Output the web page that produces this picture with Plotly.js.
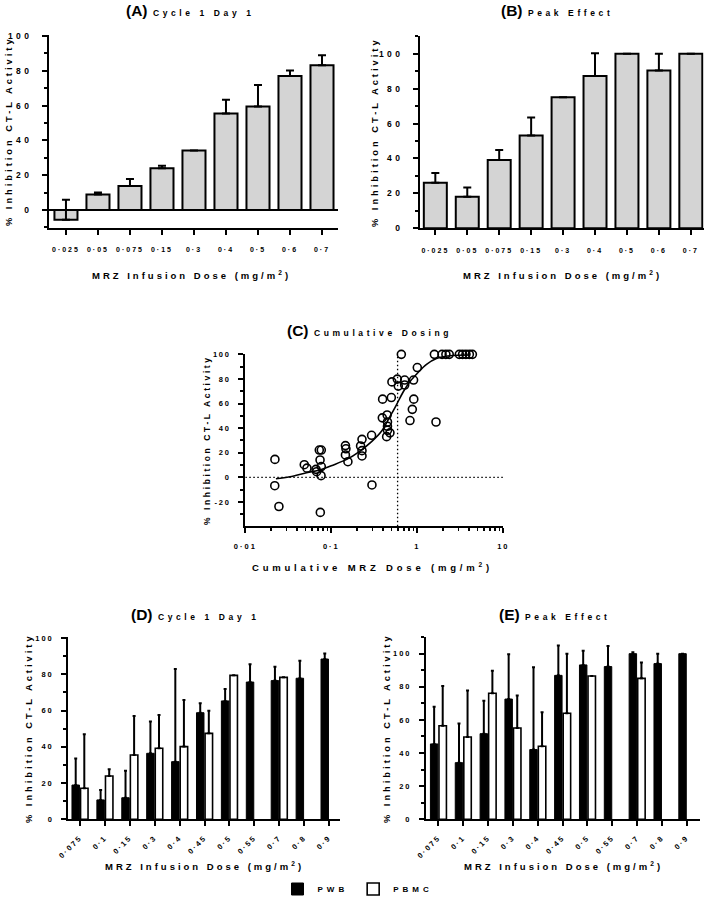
<!DOCTYPE html>
<html><head><meta charset="utf-8">
<script src="https://cdn.plot.ly/plotly-3.0.1.min.js"></script>
<style>
html,body{margin:0;padding:0;background:#fff}
#chart{width:709px;height:906px}
svg text{letter-spacing:2px}
.ytick text,.y2tick text{letter-spacing:3.4px}
.y3tick text{letter-spacing:1.8px}
.annotation-text{letter-spacing:3px}
.legendtext{letter-spacing:4px}
</style></head><body><div id="chart"></div>
<script>
// ---------- data ----------
const dosesAB = ['0·025','0·05','0·075','0·15','0·3','0·4','0·5','0·6','0·7'];
const c1d1Mean = [-5.5, 9.0, 13.9, 24.0, 34.2, 55.5, 59.5, 77.1, 83.2];
const c1d1Err  = [11.4, 1.1, 4.0, 1.4, 0, 7.9, 12.3, 3.1, 5.7];
const peakMean = [26.1, 18.1, 39.1, 53.1, 75.0, 87.2, 100, 90.3, 100];
const peakErr  = [5.6, 5.2, 5.7, 10.4, 0, 13.0, 0, 9.7, 0];

const cumDose = [0.0221,0.022,0.0246,0.0485,0.0521,0.0664,0.0675,0.0725,0.0765,0.074,0.0765,0.076,0.0745,
  0.146,0.148,0.146,0.156,0.219,0.2275,0.2275,0.2275,0.294,0.297,0.395,0.392,0.44,0.446,0.45,0.45,0.45,0.481,
  0.499,0.507,0.652,0.585,0.601,0.713,0.713,0.822,0.875,0.905,0.91,1.0,1.58,1.65,1.94,2.15,2.35,3.08,3.36,3.68,4.03,4.37];
const cumInhib = [14.6,-6.8,-23.7,10.3,7.5,6.5,4.6,22.2,22.2,14.1,8.8,1.4,-28.5,
  25.8,23.2,18.2,12.7,25.5,30.9,21.7,17.4,34.2,-6.2,63.6,48.4,33.1,50.7,45.0,41.5,38.3,36.2,
  64.9,77.6,100,79.9,74.2,79.1,75.1,46.2,55.3,79.1,63.6,89.3,100,45.0,100,100,100,100,100,100,100,100];
const fitDose  = [0.0227,0.033,0.0516,0.0738,0.1,0.151,0.216,0.294,0.385,0.48,0.57,0.687,0.82,1.0,1.28,1.67,2.4,4.1];
const fitInhib = [-1.1,0.5,3.8,6.0,9.5,14.6,21.4,29.0,37.7,49.3,58.8,69.6,77.8,84.6,91.9,96.7,98.9,99.5];
const refLineX = [0.59, 0.59];
const refLineY = [-39.8, 100.3];
const zeroLineX = [0.01, 10];
const zeroLineY = [0, 0];
const cYTicks = [-20, 0, 20, 40, 60, 80, 100];
const cYLabels = ['-20', '0', '20', '40', '60', '80', '100'];

const dosesDE = ['0·075','0·1','0·15','0·3','0·4','0·45','0·5','0·55','0·7','0·8','0·9'];
const dPWB     = [18.9, 10.7, 11.9, 36.4, 31.8, 58.8, 65.3, 75.7, 76.5, 77.8, 88.4];
const dPWBErr  = [14.7, 5.5, 14.9, 17.5, 51.1, 5.2, 6.6, 9.8, 7.7, 9.7, 3.0];
const dPBMC    = [17.1, 23.9, 35.5, 39.2, 40.1, 47.4, 79.4, null, 78.3, null, null];
const dPBMCErr = [29.8, 3.7, 21.5, 18.3, 25.7, 12.5, 0, 0, 0, 0, 0];
const ePWB     = [45.5, 34.2, 51.7, 72.6, 42.1, 86.9, 93.2, 92.2, 100, 94.0, 100];
const ePWBErr  = [22.5, 23.7, 19.9, 27.0, 49.7, 18.1, 8.6, 12.4, 0.8, 6.0, 0];
const ePBMC    = [56.5, 49.7, 76.1, 55.1, 44.1, 64.0, 86.5, null, 85.1, null, null];
const ePBMCErr = [24.0, 28.0, 13.6, 19.7, 20.5, 36.0, 0, 0, 9.5, 0, 0];

// ---------- styling helpers ----------
const W = 709, H = 906;
const F = '"Liberation Sans", Arial, sans-serif';
const dx = (a, b) => [a / W, b / W];
const dy = (top, bottom) => [1 - bottom / H, 1 - top / H];
const zeros = n => new Array(n).fill(0);
const tf = (size) => ({family: F, size: size, color: '#000', weight: 'bold'});
const base = {showline: true, linewidth: 2, linecolor: '#000', ticks: 'outside', ticklen: 5, tickwidth: 2,
  tickcolor: '#000', showgrid: false, zeroline: false, fixedrange: true};
const minorY = {tickmode: 'linear', dtick: 10, tick0: 0, ticks: 'outside', ticklen: 3, tickwidth: 2, tickcolor: '#000'};
const errB = (arr, w) => ({type: 'data', symmetric: false, array: arr, arrayminus: zeros(arr.length),
  color: '#000', thickness: 2, width: w, visible: true});

const minorLog = [];
[0.01, 0.1, 1].forEach(d => { for (let k = 2; k <= 9; k++) minorLog.push(+(d * k).toPrecision(3)); });

const traces = [
  {type: 'bar', x: dosesAB, y: c1d1Mean, xaxis: 'x', yaxis: 'y', width: 0.72, showlegend: false,
   marker: {color: '#d4d4d4', line: {color: '#000', width: 2}}, error_y: errB(c1d1Err, 4)},
  {type: 'bar', x: dosesAB, y: peakMean, xaxis: 'x2', yaxis: 'y2', width: 0.72, showlegend: false,
   marker: {color: '#d4d4d4', line: {color: '#000', width: 2}}, error_y: errB(peakErr, 4)},
  {type: 'scatter', mode: 'lines', x: zeroLineX, y: zeroLineY, xaxis: 'x3', yaxis: 'y3', showlegend: false,
   line: {color: '#000', width: 1.3, dash: '1.5px,2.5px'}},
  {type: 'scatter', mode: 'lines', x: refLineX, y: refLineY, xaxis: 'x3', yaxis: 'y3', showlegend: false,
   line: {color: '#000', width: 1.3, dash: '1.5px,2.5px'}},
  {type: 'scatter', mode: 'lines', x: fitDose, y: fitInhib, xaxis: 'x3', yaxis: 'y3', showlegend: false,
   line: {color: '#000', width: 1.6, shape: 'spline'}},
  {type: 'scatter', mode: 'markers', x: cumDose, y: cumInhib, xaxis: 'x3', yaxis: 'y3', showlegend: false,
   cliponaxis: false, marker: {symbol: 'circle-open', size: 8, color: '#000', line: {width: 1.6, color: '#000'}}},
  {type: 'bar', name: 'PWB', x: dosesDE, y: dPWB, xaxis: 'x4', yaxis: 'y4', legendgroup: 'pwb',
   marker: {color: '#000', line: {color: '#000', width: 1}}, error_y: errB(dPWBErr, 1.5)},
  {type: 'bar', name: 'PBMC', x: dosesDE, y: dPBMC, xaxis: 'x4', yaxis: 'y4', legendgroup: 'pbmc',
   marker: {color: '#fff', line: {color: '#000', width: 1.6}}, error_y: errB(dPBMCErr, 1.5)},
  {type: 'bar', name: 'PWB', x: dosesDE, y: ePWB, xaxis: 'x5', yaxis: 'y5', legendgroup: 'pwb', showlegend: false,
   marker: {color: '#000', line: {color: '#000', width: 1}}, error_y: errB(ePWBErr, 1.5)},
  {type: 'bar', name: 'PBMC', x: dosesDE, y: ePBMC, xaxis: 'x5', yaxis: 'y5', legendgroup: 'pbmc', showlegend: false,
   marker: {color: '#fff', line: {color: '#000', width: 1.6}}, error_y: errB(ePBMCErr, 1.5)}
];

const xTitle = 'MRZ Infusion Dose (mg/m<sup>2</sup>)';
const yTitle = '% Inhibition CT-L Activity';
function ann(text, x, y, size, angle, ls) {
  const t = ls != null ? '<span style="letter-spacing:' + ls + 'px">' + text + '</span>' : text;
  return {text: t, x: x / W, y: 1 - y / H, xref: 'paper', yref: 'paper', showarrow: false,
    xanchor: 'center', yanchor: 'middle', textangle: angle || 0, font: tf(size)};
}
const big = s => '<span style="font-size:15.5px;letter-spacing:0px">' + s + '</span> ';
const sub = s => '<span style="letter-spacing:3.6px">' + s + '</span>';

const layout = {
  width: W, height: H, margin: {l: 0, r: 0, t: 0, b: 0}, paper_bgcolor: '#fff', plot_bgcolor: 'rgba(0,0,0,0)',
  barmode: 'group', bargap: 0.31, bargroupgap: 0.13, font: tf(8),
  xaxis:  Object.assign({}, base, {domain: dx(49, 338), range: [-0.53, 8.5], type: 'category', anchor: 'y',
          tickfont: tf(7), ticklabelstandoff: 9}),
  yaxis:  Object.assign({}, base, {domain: dy(35, 228), range: [-10.3, 100.6], anchor: 'x', tick0: 0, dtick: 20,
          zeroline: true, zerolinewidth: 2, zerolinecolor: '#000', minor: minorY, tickfont: tf(8.5), ticklabelstandoff: 8}),
  xaxis2: Object.assign({}, base, {domain: dx(420, 703.6), range: [-0.48, 8.4], type: 'category', anchor: 'y2',
          tickfont: tf(7), ticklabelstandoff: 9}),
  yaxis2: Object.assign({}, base, {domain: dy(35.7, 228.3), range: [0, 110.3], anchor: 'x2', tick0: 0, dtick: 20,
          minor: minorY, tickfont: tf(8.5), ticklabelstandoff: 8}),
  xaxis3: Object.assign({}, base, {domain: dx(245.3, 503.3), range: [-2, 1], type: 'log', anchor: 'y3',
          tickmode: 'array', tickvals: [0.01, 0.1, 1, 10], ticktext: ['0·01', '0·1', '1', '10'],
          minor: {tickmode: 'array', tickvals: minorLog, ticks: 'outside', ticklen: 3, tickwidth: 1.5, tickcolor: '#000'},
          tickfont: tf(7.5), ticklabelstandoff: 7}),
  yaxis3: Object.assign({}, base, {domain: dy(354.0, 526.3), range: [-39.8, 100.3], anchor: 'x3',
          tickmode: 'array', tickvals: cYTicks, ticktext: cYLabels,
          minor: minorY, tickfont: tf(7.5), ticklabelstandoff: 6}),
  xaxis4: Object.assign({}, base, {domain: dx(68.3, 340), range: [-0.47, 10.44], type: 'category', anchor: 'y4',
          tickangle: -45, tickfont: tf(7.5), ticklabelstandoff: 4}),
  yaxis4: Object.assign({}, base, {domain: dy(637.1, 819.3), range: [0, 100.5], anchor: 'x4', tick0: 0, dtick: 20,
          minor: minorY, tickfont: tf(7.5), ticklabelstandoff: 6}),
  xaxis5: Object.assign({}, base, {domain: dx(426, 700), range: [-0.5, 10.53], type: 'category', anchor: 'y5',
          tickangle: -45, tickfont: tf(7.5), ticklabelstandoff: 4}),
  yaxis5: Object.assign({}, base, {domain: dy(636.6, 819.3), range: [0, 110.3], anchor: 'x5', tick0: 0, dtick: 20,
          minor: minorY, tickfont: tf(7.5), ticklabelstandoff: 6}),
  legend: {orientation: 'h', x: 358 / W, xanchor: 'center', y: 1 - 889 / H, yanchor: 'middle',
    font: tf(8), itemwidth: 30, traceorder: 'normal', bgcolor: 'rgba(0,0,0,0)'},
  annotations: [
    ann(big('(A)') + sub('Cycle 1 Day 1'), 190, 10, 8.5),
    ann(big('(B)') + sub('Peak Effect'), 557, 10, 8.5),
    ann(big('(C)') + sub('Cumulative Dosing'), 369, 330, 8.5),
    ann(big('(D)') + sub('Cycle 1 Day 1'), 195, 614, 8.5),
    ann(big('(E)') + sub('Peak Effect'), 554, 614, 8.5),
    ann(yTitle, 9, 131, 9.3, -90),
    ann(yTitle, 375, 132, 9.3, -90),
    ann(yTitle, 207, 440, 8.5, -90, 2.6),
    ann(yTitle, 29, 728, 9.3, -90),
    ann(yTitle, 387, 728, 9.3, -90),
    ann(xTitle, 191, 275, 9.5),
    ann(xTitle, 562, 275, 9.5),
    ann('Cumulative MRZ Dose (mg/m<sup>2</sup>)', 373, 567, 9.5, 0, 3.8),
    ann(xTitle, 204, 866, 9.5),
    ann(xTitle, 563, 866, 9.5)
  ]
};

Plotly.newPlot('chart', traces, layout, {displayModeBar: false, staticPlot: true});
</script></body></html>
